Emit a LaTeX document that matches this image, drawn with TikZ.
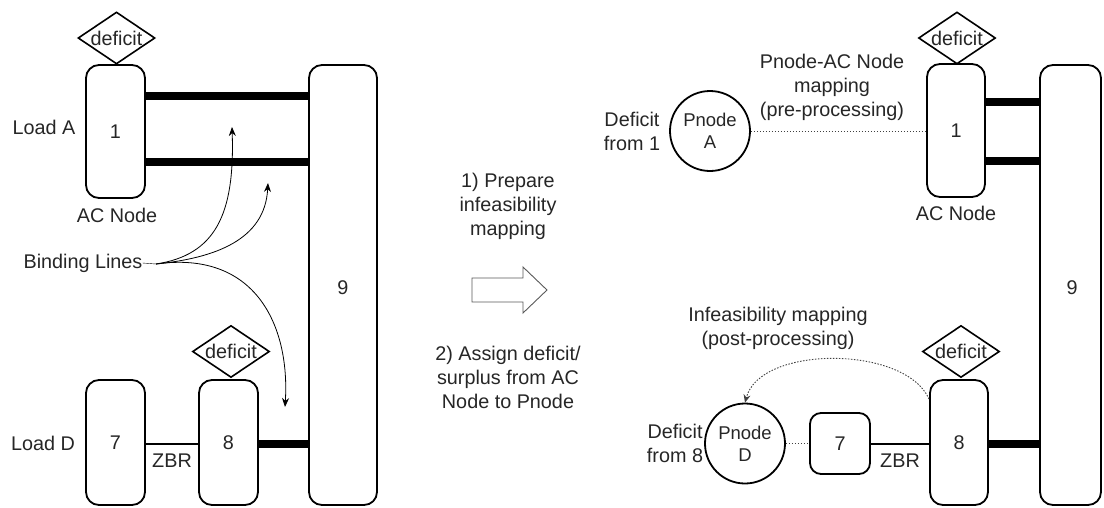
\documentclass[tikz,border=0pt]{standalone}
\usepackage{fontspec}
\setmainfont{Liberation Sans}
\usetikzlibrary{shapes.geometric,arrows.meta}
\begin{document}
\begin{tikzpicture}[x=1pt,y=-1pt,
  every node/.style={font=\fontsize{19.8}{24}\selectfont, text=black!85, inner sep=0pt, align=center},
  busbox/.style={draw=black, line width=1.8pt, rounded corners=13pt, minimum width=#1},
  dmd/.style={draw=black, line width=1.6pt, diamond, minimum width=77pt, minimum height=52pt},
  pnode/.style={draw=black, line width=1.8pt, circle, minimum size=80pt, font=\fontsize{18.5}{22}\selectfont},
  bindline/.style={line width=7.5pt},
  zbr/.style={line width=1.6pt},
  curvearrow/.style={line width=0.8pt, -{Stealth[length=9pt,width=7pt]}},
  dotline/.style={line width=0.9pt, draw=black!75, dash pattern=on 1.5pt off 1.5pt},
]
\useasboundingbox (0,0) rectangle (1104,507);

% ---------------- left half ----------------
\node[busbox=59pt, minimum height=133pt] (L1) at (115.5,131.5) {1};
\node[dmd] (LD1) at (116.5,38) {};
\node at (LD1) {deficit};
\node (LA) at (44,127) {Load A};
\node (LAC) at (117,215) {AC Node};
\node[busbox=68pt, minimum height=440pt] (L9) at (343,285) {};
\node at (343,288) {9};

\draw[bindline] (L1.east |- 0,96) -- (L9.west |- 0,96);
\draw[bindline] (L1.east |- 0,162) -- (L9.west |- 0,162);

\node[busbox=59pt, minimum height=125pt] (L7) at (115.5,442.5) {};
\node at (115.5,443) {7};
\node[busbox=59pt, minimum height=125pt] (L8) at (228.5,442.5) {};
\node at (228.5,443) {8};
\node[dmd] (LD8) at (231,351.5) {};
\node at (LD8) {deficit};
\node (LD) at (43,443) {Load D};
\draw[zbr] (L7.east |- 0,444) -- (L8.west |- 0,444);
\node (LZ) at (172,461) {ZBR};
\draw[bindline] (L8.east |- 0,444) -- (L9.west |- 0,444);

\node (BL) at (83,263) {Binding Lines};
\coordinate (b0) at (156,264);
\coordinate (t1) at (232,127);
\coordinate (t2) at (268,183);
\coordinate (t3) at (285,407);
\draw (BL.east) -- (b0);
\draw[curvearrow] (b0) .. controls (215,255) and (235,215) .. (t1);
\draw[curvearrow] (b0) .. controls (215,258) and (265,240) .. (t2);
\draw[curvearrow] (b0) .. controls (255,250) and (290,325) .. (t3);

% ---------------- middle ----------------
\node (M1) at (508,206) {1) Prepare\\infeasibility\\mapping};
\draw[draw=black!65, line width=0.9pt, fill=white]
  (472,278) -- (523,278) -- (523,267) -- (547,290) -- (523,313) -- (523,302) -- (472,302) -- cycle;
\node (M2) at (508,377) {2) Assign deficit/\\surplus from AC\\Node to Pnode};

% ---------------- right half ----------------
\node[busbox=58pt, minimum height=133pt] (R1) at (956,130.5) {1};
\node[dmd] (RD1) at (957,38) {};
\node at (RD1) {deficit};
\node (RAC) at (956,213) {AC Node};
\node[busbox=61pt, minimum height=440pt] (R9) at (1070.5,285) {};
\node at (1072,288) {9};
\draw[bindline] (R1.east |- 0,102) -- (R9.west |- 0,102);
\draw[bindline] (R1.east |- 0,161) -- (R9.west |- 0,161);

\node[pnode] (PA) at (710,131) {Pnode\\A};
\node (DA) at (632,131) {Deficit\\from 1};
\draw[dotline] (PA.east) -- (PA.east -| R1.west);
\node (MAP1) at (832,87) {Pnode-AC Node\\mapping\\(pre-processing)};

\node[busbox=58pt, minimum height=125pt] (R8) at (959,442.5) {};
\node at (959,443) {8};
\node[dmd] (RD8) at (961,351.5) {};
\node at (RD8) {deficit};
\draw[bindline] (R8.east |- 0,444) -- (R9.west |- 0,444);
\node[busbox=60pt, minimum height=61pt, rounded corners=11pt] (R7) at (840,443.5) {7};
\draw[zbr] (R7.east |- 0,444) -- (R8.west |- 0,444);
\node (RZ) at (900,461) {ZBR};
\node[pnode] (PD) at (745,443.5) {Pnode\\D};
\node (DD) at (675,443.5) {Deficit\\from 8};
\draw[dotline] (PD.east) -- (PD.east -| R7.west);
\coordinate (s8) at (929,399);
\draw[dotline, -{Stealth[length=8pt,width=7pt]}] (s8) .. controls (905,345) and (760,345) .. (PD.north);
\node (MAP2) at (778,328) {Infeasibility mapping\\(post-processing)};
\end{tikzpicture}
\end{document}
